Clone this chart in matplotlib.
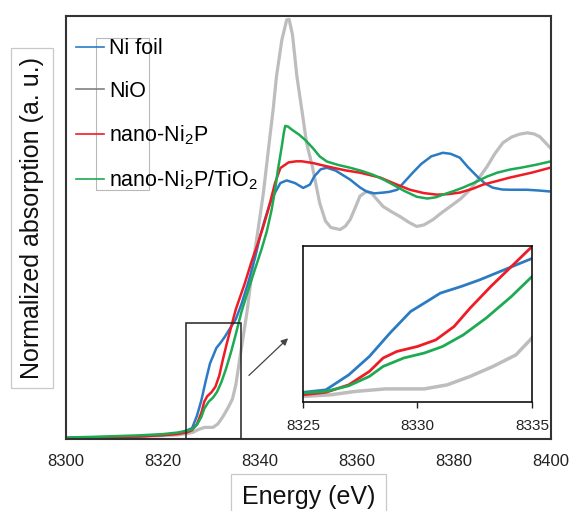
import matplotlib
matplotlib.use('Agg')
import matplotlib.pyplot as plt
from matplotlib.lines import Line2D
from matplotlib.patches import Rectangle

plt.rcParams['font.family'] = ['Liberation Sans', 'DejaVu Sans']
plt.rcParams['mathtext.default'] = 'regular'

# Ni K-edge XANES, normalized absorption vs energy (eV)
e_foil = [8300, 8305, 8310, 8315, 8320, 8323, 8325, 8326, 8327, 8327.9, 8328.8, 8329.7,
          8330.3, 8331.0, 8331.9, 8332.7, 8333.6, 8334.3, 8335, 8336.2, 8337.7, 8339.0,
          8340.0, 8341.0, 8341.9, 8342.7, 8344.2, 8345.5, 8347.2, 8348.9, 8350.3, 8351.2,
          8352.5, 8353.8, 8355.6, 8358.6, 8360.6, 8362.0, 8363.6, 8365.4, 8366.7, 8368.3,
          8369.7, 8371.5, 8373.2, 8375.3, 8377.7, 8379.3, 8381.2, 8382.8, 8384.8, 8386.4,
          8388.0, 8389.9, 8391.5, 8395.0, 8397.5, 8400]
mu_foil = [0.0, 0.002, 0.004, 0.007, 0.012, 0.018, 0.031, 0.039, 0.087, 0.146, 0.221, 0.29,
           0.317, 0.349, 0.37, 0.391, 0.418, 0.439, 0.46, 0.52, 0.61, 0.70,
           0.78, 0.846, 0.9, 0.936, 0.987, 0.997, 0.987, 0.968, 0.981, 1.013,
           1.04, 1.046, 1.035, 1.0, 0.97, 0.954, 0.947, 0.95, 0.953, 0.961,
           0.99, 1.027, 1.06, 1.09, 1.104, 1.1, 1.085, 1.05, 1.012, 0.985,
           0.969, 0.962, 0.961, 0.961, 0.958, 0.954]

e_nio = [8300, 8305, 8310, 8315, 8320, 8323, 8325, 8326.2, 8327.3, 8328.6, 8330.3, 8331.3,
         8332.3, 8333.3, 8334.3, 8335, 8335.9, 8337.3, 8338.6, 8339.7, 8340.7, 8342.0,
         8342.7, 8343.4, 8344.5, 8345.5, 8346.0, 8346.7, 8347.6, 8348.7, 8349.6, 8350.8,
         8352.3, 8353.5, 8354.6, 8356.5, 8357.6, 8358.6, 8359.6, 8360.6, 8362.0, 8363.1,
         8365.4, 8367.2, 8368.9, 8370.7, 8372.3, 8373.8, 8375.7, 8377.3, 8379.2, 8381.3,
         8383.3, 8384.9, 8386.8, 8388.4, 8390.1, 8391.9, 8393.5, 8395.1, 8396.5, 8397.7,
         8399.0, 8400]
mu_nio = [0.0, 0.002, 0.004, 0.006, 0.01, 0.013, 0.018, 0.023, 0.034, 0.042, 0.042, 0.055,
          0.082, 0.114, 0.151, 0.205, 0.317, 0.486, 0.68, 0.82, 0.949, 1.16,
          1.27, 1.4, 1.54, 1.618, 1.62, 1.56, 1.4, 1.26, 1.142, 1.05,
          0.91, 0.84, 0.815, 0.807, 0.82, 0.846, 0.89, 0.936, 0.955, 0.945,
          0.896, 0.875, 0.857, 0.835, 0.819, 0.825, 0.846, 0.87, 0.896, 0.925,
          0.961, 1.0, 1.05, 1.1, 1.143, 1.165, 1.176, 1.181, 1.177, 1.166,
          1.14, 1.12]

e_ni2p = [8300, 8305, 8310, 8315, 8320, 8323, 8325, 8326, 8327, 8327.9, 8328.5, 8329.1,
          8330, 8330.8, 8331.6, 8332.3, 8333.2, 8334.1, 8335, 8336.9, 8338.2, 8339.6,
          8340.7, 8341.7, 8343.1, 8344.2, 8345.9, 8347.5, 8348.6, 8351.0, 8353.0, 8355.1,
          8357.6, 8360.6, 8362.6, 8364.8, 8367.7, 8370.9, 8373.8, 8376.5, 8378.8, 8381.2,
          8383.9, 8386.0, 8388.9, 8391.5, 8396.0, 8399.8, 8400]
mu_ni2p = [0.0, 0.002, 0.004, 0.007, 0.012, 0.016, 0.023, 0.031, 0.055, 0.098, 0.141, 0.162,
           0.178, 0.199, 0.242, 0.301, 0.37, 0.434, 0.498, 0.601, 0.68, 0.756,
           0.82, 0.884, 0.987, 1.045, 1.067, 1.071, 1.071, 1.064, 1.055, 1.046,
           1.036, 1.027, 1.018, 1.008, 0.985, 0.961, 0.948, 0.942, 0.944, 0.95,
           0.965, 0.981, 0.995, 1.008, 1.027, 1.046, 1.047]

e_tio2 = [8300, 8305, 8310, 8315, 8320, 8323, 8325, 8326, 8327, 8327.9, 8328.5, 8329.4,
          8330.3, 8331.1, 8332, 8333, 8334.1, 8335, 8336.2, 8337.6, 8338.9, 8340.3, 8341.4,
          8342.4, 8343.1, 8343.7, 8344.5, 8344.9, 8345.2, 8345.8, 8346.6, 8348.0, 8349.3,
          8350.9, 8352.3, 8353.8, 8356.1, 8358.6, 8361.1, 8363.3, 8365.5, 8367.4, 8369.7,
          8372.3, 8374.5, 8376.3, 8377.7, 8379.8, 8381.8, 8384.4, 8386.8, 8388.9, 8391.5,
          8394.0, 8397.0, 8399.8, 8400]
mu_tio2 = [0.003, 0.005, 0.008, 0.011, 0.016, 0.022, 0.029, 0.034, 0.052, 0.082, 0.114, 0.141,
           0.157, 0.178, 0.215, 0.269, 0.338, 0.402, 0.49, 0.575, 0.65, 0.73, 0.8,
           0.884, 0.96, 1.039, 1.13, 1.18, 1.208, 1.205, 1.193, 1.175, 1.154,
           1.122, 1.09, 1.07, 1.057, 1.046, 1.033, 1.019, 1.0, 0.981, 0.957,
           0.934, 0.927, 0.932, 0.942, 0.955, 0.969, 0.99, 1.012, 1.027, 1.039,
           1.047, 1.058, 1.07, 1.071]

labels = ['Ni foil', 'NiO', 'nano-Ni$_2$P', 'nano-Ni$_2$P/TiO$_2$']
main_ticks = [8300, 8320, 8340, 8360, 8380, 8400]
inset_ticks = [8325, 8330, 8335]

c_foil = '#2b7bc4'
c_nio = '#bdbdbd'
c_ni2p = '#ee1c24'
c_tio2 = '#1daa52'

series = [(e_nio, mu_nio, c_nio, 2.3),
          (e_foil, mu_foil, c_foil, 1.8),
          (e_ni2p, mu_ni2p, c_ni2p, 1.8),
          (e_tio2, mu_tio2, c_tio2, 1.8)]

fig = plt.figure(figsize=(5.71, 5.11), dpi=100)
ax = fig.add_axes([0.1156, 0.1409, 0.8494, 0.8278])

for e, mu, c, lw in series:
    ax.plot(e, mu, color=c, lw=lw, solid_capstyle='round')

ax.set_xlim(8300, 8400)
ax.set_ylim(-0.003, 1.633)
ax.set_xticks(main_ticks)
ax.set_yticks([])
ax.tick_params(axis='x', length=0, pad=11, labelsize=12, colors='#222222')
for s in ax.spines.values():
    s.set_linewidth(1.5)
    s.set_color('#333333')

ax.set_xlabel('Energy (eV)', fontsize=18, color='#111111',
              bbox=dict(boxstyle='square,pad=0.45', fc='white', ec='#c8c8c8', lw=0.9))
ax.xaxis.set_label_coords(0.5, -0.109)
ax.xaxis.label.set_va('top')
ax.set_ylabel('Normalized absorption (a. u.)', fontsize=18, color='#111111',
              bbox=dict(boxstyle='square,pad=0.35', fc='white', ec='#c8c8c8', lw=0.9))
ax.yaxis.set_label_coords(-0.07, 0.522)
ax.yaxis.label.set_va('center')

# legend
handles = [Line2D([], [], color=c_foil, lw=1.2),
           Line2D([], [], color='#808080', lw=1.2),
           Line2D([], [], color=c_ni2p, lw=1.2),
           Line2D([], [], color=c_tio2, lw=1.2)]
ax.legend(handles, labels, loc='upper left', bbox_to_anchor=(0.0206, 0.947),
          frameon=False, fontsize=15.5, handlelength=1.3, handletextpad=0.25,
          labelspacing=1.0, borderpad=0, borderaxespad=0)
ax.add_patch(Rectangle((0.0619, 0.5887), 0.1099, 0.360, transform=ax.transAxes,
                       fill=False, ec='#b8b8b8', lw=0.8, zorder=5))

# zoom box and arrow
ax.add_patch(Rectangle((8324.7, -0.003), 11.4, 0.447, fill=False, ec='#222222', lw=1.1, zorder=6))
ax.annotate('', xy=(8346.2, 0.394), xytext=(8337.3, 0.2355),
            arrowprops=dict(arrowstyle='-|>', color='#444444', lw=0.9, mutation_scale=10))

# inset: pre-edge region
ins = fig.add_axes([0.5306, 0.2133, 0.401, 0.3053])
for e, mu, c, lw in series:
    ins.plot(e, mu, color=c, lw=lw + 0.2)
ins.set_xlim(8325, 8335)
ins.set_ylim(0, 0.5)
ins.set_xticks(inset_ticks)
ins.set_yticks([])
ins.tick_params(axis='x', direction='out', length=4, width=1, pad=8, labelsize=11,
                colors='#222222')
for s in ins.spines.values():
    s.set_linewidth(1.2)
    s.set_color('#111111')

fig.savefig('out.png', dpi=100)
